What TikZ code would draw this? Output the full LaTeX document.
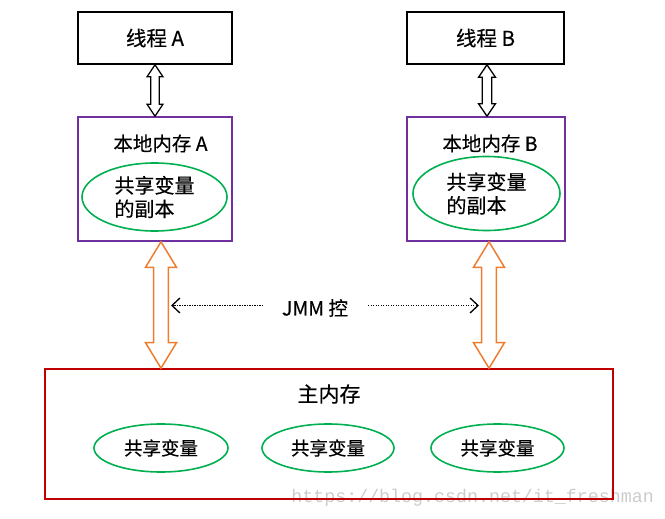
\documentclass[tikz,border=0pt]{standalone}
\usepackage{fontspec}
\setmainfont{Noto Sans CJK SC}[FakeBold=0.35]
\newfontfamily\wmfont{Liberation Mono}
\usetikzlibrary{calc,arrows.meta,shapes.geometric}
\definecolor{cpurple}{HTML}{7030A0}
\definecolor{cgreen}{HTML}{00B050}
\definecolor{corange}{HTML}{ED7D31}
\definecolor{cred}{HTML}{C00000}
\newcommand\hollowarrow[6]{%
  \draw[#1] let \p1=(#2), \p2=(#3) in
    (\x1,\y1) -- (\x1+#4,\y1-#6) -- (\x1+#5,\y1-#6) -- (\x1+#5,\y2+#6)
    -- (\x1+#4,\y2+#6) -- (\x1,\y2) -- (\x1-#4,\y2+#6) -- (\x1-#5,\y2+#6)
    -- (\x1-#5,\y1-#6) -- (\x1-#4,\y1-#6) -- cycle;}
\tikzset{
  threadbox/.style={draw=black, line width=1.6pt, inner sep=0pt, minimum height=52pt,
    font=\fontsize{20.5}{24}\selectfont},
  localbox/.style={draw=cpurple, line width=1.6pt, inner sep=0pt, minimum height=124pt},
  mainbox/.style={draw=cred, line width=1.6pt, inner sep=0pt},
  copyell/.style={draw=cgreen, line width=1.6pt, ellipse, inner sep=0pt, align=left,
    font=\fontsize{20}{23.5}\selectfont},
  varell/.style={draw=cgreen, line width=1.6pt, ellipse, inner sep=0pt,
    minimum width=133pt, minimum height=48pt, font=\fontsize{18.5}{21}\selectfont},
  lbl/.style={inner sep=0pt, font=\fontsize{19.5}{22}\selectfont},
  blkarrow/.style={draw=black, line width=1.3pt, fill=white},
  orgarrow/.style={draw=corange, line width=1.5pt, fill=white},
  ctlarrow/.style={dash pattern=on 1.3pt off 1.2pt, line width=1.3pt, black,
    -{Straight Barb[length=8pt,width=15pt,line width=1.3pt]}},
}
\begin{document}
\begin{tikzpicture}[x=1pt,y=-1pt]
\useasboundingbox (0,0) rectangle (665,519);
% watermark
\node[anchor=east, inner sep=0pt, text=black!20, font=\wmfont\fontsize{18.3}{20}\selectfont] (wm) at (654,498) {https://blog.csdn.net/it\_freshman};
% threads
\node[threadbox, minimum width=154pt] (ta) at (155,38) {线程 A};
\node[threadbox, minimum width=157pt] (tb) at (485.5,38) {线程 B};
% local memories
\node[localbox, minimum width=154pt] (la) at (155,179) {};
\node[localbox, minimum width=158pt] (lb) at (486,179) {};
\node[lbl] (lal) at (160.5,143.5) {本地内存 A};
\node[lbl] (lbl) at (490,143.5) {本地内存 B};
\node[copyell, minimum width=145pt, minimum height=68pt] (ea) at (154.5,197) {共享变量\\的副本};
\node[copyell, minimum width=147pt, minimum height=74pt] (eb) at (486.5,193.5) {共享变量\\的副本};
% main memory
\node[mainbox, minimum width=568pt, minimum height=130pt] (mm) at (329,434) {};
\node[lbl, font=\fontsize{21}{24}\selectfont] (mml) at (329,394) {主内存};
\node[varell, minimum width=134pt] (v1) at (161,448) {共享变量};
\node[varell, minimum width=132pt] (v2) at (328,448) {共享变量};
\node[varell, minimum width=133pt] (v3) at (497.5,448) {共享变量};
% thread <-> local arrows
\hollowarrow{blkarrow}{ta.south}{la.north}{8pt}{4.3pt}{12pt}
\hollowarrow{blkarrow}{$(tb.south)+(1.5,0)$}{$(lb.north)+(1,0)$}{8.5pt}{4.8pt}{12.5pt}
% local <-> main arrows
\coordinate (oaT) at ($(la.south)+(6,0)$);
\coordinate (oaB) at (oaT |- mm.north);
\coordinate (obT) at ($(lb.south)+(3,0)$);
\coordinate (obB) at (obT |- mm.north);
\hollowarrow{orgarrow}{oaT}{oaB}{15.5pt}{7.3pt}{25.5pt}
\hollowarrow{orgarrow}{obT}{obB}{15.5pt}{7.3pt}{25.5pt}
% JMM control
\node[lbl, font=\fontsize{19.5}{22}\selectfont] (jmm) at (315,308) {JMM 控};
\coordinate (jl) at (263,305.5);
\coordinate (jr) at (368,305.5);
\coordinate (ca) at (171,305.5);
\coordinate (cb) at (479,305.5);
\draw[ctlarrow] (jl) -- (ca);
\draw[ctlarrow] (jr) -- (cb);
\end{tikzpicture}
\end{document}
